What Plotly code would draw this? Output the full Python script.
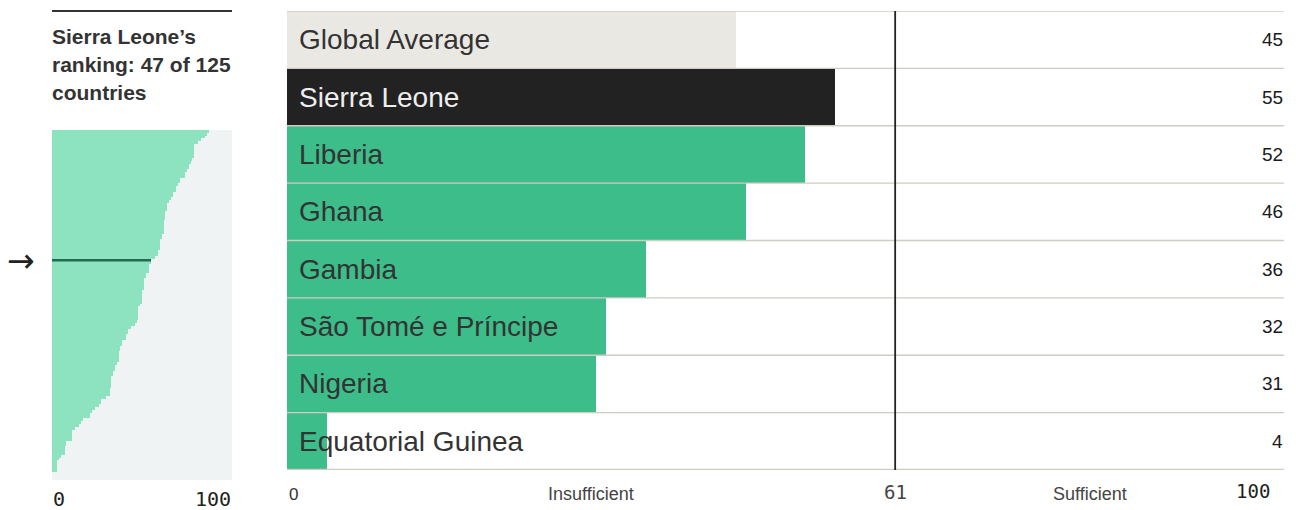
import plotly.graph_objects as go

# ---------------- data ----------------
countries = ["Global Average", "Sierra Leone", "Liberia", "Ghana", "Gambia",
             "São Tomé e Príncipe", "Nigeria", "Equatorial Guinea"]
scores = [45, 55, 52, 46, 36, 32, 31, 4]
bar_colors = ["#eae8e3", "#222222", "#3dbd8a", "#3dbd8a", "#3dbd8a",
              "#3dbd8a", "#3dbd8a", "#3dbd8a"]
label_colors = ["#333333", "#eeeeee", "#333333", "#333333", "#333333",
                "#333333", "#333333", "#333333"]
threshold = 61
focus_country = "Sierra Leone"
focus_rank = 47
total_countries = 125

# all countries' scores, sorted (distribution strip)
all_scores = [87, 86, 85, 83, 81, 79, 79, 79, 79, 79,
              78, 77, 76, 76, 75, 74, 74, 71, 71, 70,
              69, 69, 67, 67, 66, 65, 64, 64, 64, 63,
              63, 63, 62, 62, 62, 62, 62, 61, 61, 60,
              60, 60, 60, 59, 59, 57, 55, 55, 54, 54,
              54, 52, 52, 51, 51, 51, 51, 50, 50, 50,
              50, 50, 49, 48, 48, 48, 48, 48, 47, 46,
              44, 42, 42, 41, 41, 39, 39, 38, 38, 37,
              37, 37, 37, 36, 35, 35, 34, 34, 33, 33,
              33, 33, 32, 32, 32, 30, 27, 27, 26, 24,
              22, 21, 21, 17, 16, 15, 13, 11, 11, 11,
              11, 8, 8, 7, 7, 7, 5, 4, 3, 3,
              3, 3, 0, 0, 0]
ranks = list(range(1, len(all_scores) + 1))
focus_score = scores[countries.index(focus_country)]

W, H = 1296, 510
def px_x(x): return x / W
def px_y(y): return (H - y) / H

fig = go.Figure()

# ---- mini distribution chart ----
fig.add_trace(go.Bar(x=all_scores, y=ranks, orientation="h",
                     marker=dict(color="#8de3c0", line=dict(width=0)),
                     xaxis="x", yaxis="y", hoverinfo="skip", showlegend=False))
fig.add_trace(go.Scatter(x=[0, focus_score], y=[focus_rank, focus_rank], mode="lines",
                         line=dict(color="#236b50", width=2.4),
                         xaxis="x", yaxis="y", hoverinfo="skip", showlegend=False))

# ---- main bar chart ----
idx = list(range(len(countries)))
fig.add_trace(go.Bar(x=scores, y=idx, orientation="h",
                     marker=dict(color=bar_colors, line=dict(width=0)),
                     xaxis="x2", yaxis="y2", hoverinfo="skip", showlegend=False))

shapes = []
# background of mini chart
shapes.append(dict(type="rect", xref="x", yref="y", x0=0, x1=100,
                   y0=0.5, y1=total_countries + 0.5,
                   fillcolor="#eff3f4", line=dict(width=0), layer="below"))
# row separators
for i in range(len(countries) + 1):
    last = i == len(countries)
    shapes.append(dict(type="line", xref="x2", yref="y2", x0=0, x1=100,
                       y0=i - 0.5, y1=i - 0.5,
                       line=dict(color="#cfccc0", width=2.5 if last else 1.3),
                       layer="above"))
# threshold line
shapes.append(dict(type="line", xref="x2", yref="y2", x0=threshold, x1=threshold,
                   y0=-0.5, y1=len(countries) - 0.5,
                   line=dict(color="#222222", width=1.8), layer="above"))
# top rule of left panel
shapes.append(dict(type="line", xref="paper", yref="paper",
                   x0=px_x(52), x1=px_x(232), y0=px_y(11), y1=px_y(11),
                   line=dict(color="#333333", width=2)))

ann = []
for i, (c, s, lc) in enumerate(zip(countries, scores, label_colors)):
    ann.append(dict(x=0, y=i, xref="x2", yref="y2", text=c, showarrow=False,
                    xanchor="left", yanchor="middle", xshift=10,
                    font=dict(family="Liberation Sans, Arial", size=28, color=lc)))
    ann.append(dict(x=100, y=i, xref="x2", yref="y2", text=str(s), showarrow=False,
                    xanchor="right", yanchor="middle", xshift=1,
                    font=dict(family="Liberation Sans, Arial", size=19, color="#1a1a1a")))

# bottom labels of main chart
ybot = px_y(494)
ann += [
    dict(x=0, y=ybot, xref="x2", yref="paper", text="0", showarrow=False,
         xanchor="left", yanchor="middle", xshift=0,
         font=dict(family="Liberation Sans, Arial", size=17, color="#333333")),
    dict(x=threshold / 2, y=ybot, xref="x2", yref="paper", text="Insufficient",
         showarrow=False, xanchor="center", yanchor="middle",
         font=dict(family="Liberation Sans, Arial", size=18, color="#444444")),
    dict(x=threshold, y=ybot + 0.004, xref="x2", yref="paper", text=str(threshold),
         showarrow=False, xanchor="center", yanchor="middle",
         font=dict(family="DejaVu Sans Mono", size=19, color="#444444")),
    dict(x=(threshold + 100) / 2, y=ybot, xref="x2", yref="paper", text="Sufficient",
         showarrow=False, xanchor="center", yanchor="middle",
         font=dict(family="Liberation Sans, Arial", size=18, color="#444444")),
    dict(x=100, y=ybot + 0.006, xref="x2", yref="paper", text="100", showarrow=False,
         xanchor="right", yanchor="middle", xshift=-12,
         font=dict(family="DejaVu Sans Mono", size=19, color="#222222")),
]
# mini chart ticks
ann += [
    dict(x=0, y=px_y(499), xref="x", yref="paper", text="0", showarrow=False,
         xanchor="left", yanchor="middle", xshift=-1,
         font=dict(family="DejaVu Sans Mono", size=20, color="#222222")),
    dict(x=100, y=px_y(499), xref="x", yref="paper", text="100", showarrow=False,
         xanchor="right", yanchor="middle", xshift=1,
         font=dict(family="DejaVu Sans Mono", size=20, color="#222222")),
]
# title lines
title_lines = [f"{focus_country}’s", f"ranking: {focus_rank} of {total_countries}", "countries"]
for k, t in enumerate(title_lines):
    ann.append(dict(x=px_x(52), y=px_y(37 + 27.5 * k), xref="paper", yref="paper",
                    text=f"<b>{t}</b>", showarrow=False, xanchor="left", yanchor="middle",
                    xshift=-2,
                    font=dict(family="Liberation Sans, Arial", size=21, color="#333333")))
# arrow
ann.append(dict(x=px_x(21), y=focus_rank, xref="paper", yref="y", text="→",
                showarrow=False, xanchor="center", yanchor="middle",
                font=dict(family="DejaVu Sans", size=33, color="#222222")))

fig.update_layout(
    width=W, height=H, margin=dict(l=0, r=0, t=0, b=0),
    paper_bgcolor="white", plot_bgcolor="rgba(0,0,0,0)",
    bargap=0, barmode="overlay",
    xaxis=dict(domain=[px_x(52), px_x(232)], range=[0, 100], visible=False, fixedrange=True),
    yaxis=dict(domain=[px_y(480), px_y(130)], range=[total_countries + 0.5, 0.5],
               visible=False, anchor="x"),
    xaxis2=dict(domain=[px_x(287), px_x(1284)], range=[0, 100], visible=False, anchor="y2"),
    yaxis2=dict(domain=[px_y(470), px_y(11)], range=[len(countries) - 0.5, -0.5],
                visible=False, anchor="x2"),
    shapes=shapes, annotations=ann, showlegend=False,
)

fig.write_html("out.html", config={"displayModeBar": False},
               post_script="document.body.style.margin='0';document.body.style.overflow='hidden';")
